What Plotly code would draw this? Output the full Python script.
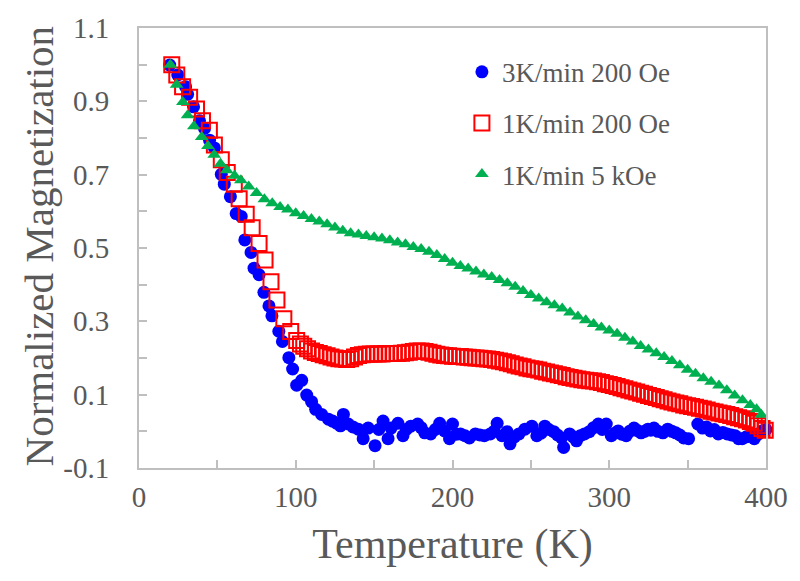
import plotly.graph_objects as go

# ---------------- data ----------------
blue_T = [19.6, 24.7, 29.7, 31.0, 34.8, 38.6, 41.8, 45.0, 48.1, 52.5, 54.4, 58.3, 62.0, 65.2,
          67.5, 71.5, 73.4, 76.6, 79.7, 82.9, 84.8, 89.2, 91.5, 95.6, 98.0, 100.6, 103.8, 107.0,
          110.1, 112.7, 116.5, 120.9, 123.5, 126.0, 128.5, 130.4, 133.5, 136.5, 139.9, 143.0,
          146.2, 150.6, 153.0, 155.7, 158.9, 160.8, 165.2, 168.4, 170.5, 173.4, 177.8, 180.0,
          182.3, 186.1, 189.0, 191.8, 194.9, 198.1, 200.0, 202.5, 205.1, 208.0, 210.8, 214.6,
          217.5, 220.3, 224.1, 226.5, 228.5, 231.6, 234.8, 236.7, 239.5, 242.4, 246.2, 250.6,
          253.8, 256.5, 258.9, 261.5, 264.6, 267.0, 269.6, 270.9, 274.7, 277.0, 279.1, 281.5,
          284.2, 287.3, 290.0, 293.0, 295.5, 298.1, 301.3, 303.5, 305.7, 308.0, 310.8, 313.0,
          315.8, 318.0, 320.3, 322.5, 324.7, 326.5, 328.5, 331.0, 334.2, 337.3, 340.0, 342.4,
          345.0, 347.5, 350.6, 356.5, 359.5, 362.0, 364.6, 367.0, 369.6, 372.5, 375.3, 378.0,
          380.4, 382.5, 384.8, 387.5, 389.9, 392.5, 395.0, 397.5, 400.0]
blue_M = [0.999, 0.972, 0.940, 0.919, 0.885, 0.847, 0.826, 0.794, 0.773, 0.701, 0.674, 0.640, 0.594, 0.586,
          0.522, 0.488, 0.445, 0.427, 0.379, 0.342, 0.315, 0.273, 0.245, 0.201, 0.170, 0.126, 0.139, 0.099,
          0.081, 0.060, 0.046, 0.033, 0.028, 0.022, 0.015, 0.046, 0.020, 0.012, 0.006, -0.020,
          0.009, -0.039, 0.005, 0.028, -0.020, 0.009, 0.022, -0.012, 0.005, 0.014, 0.020, 0.010,
          -0.004, -0.007, 0.005, 0.022, 0.001, -0.020, 0.020, -0.008, -0.007, -0.012, -0.018, -0.007,
          -0.010, -0.012, -0.007, 0.000, 0.022, -0.012, -0.001, -0.034, -0.015, -0.007, 0.006, 0.014,
          -0.012, -0.005, 0.014, 0.005, -0.001, -0.010, -0.018, -0.044, -0.007, -0.015, -0.026, -0.012,
          -0.007, -0.001, 0.010, 0.020, 0.005, 0.020, -0.012, -0.005, 0.001, -0.008, -0.012, 0.000,
          0.009, 0.002, -0.004, 0.000, 0.006, 0.003, 0.009, 0.000, -0.004, 0.006, 0.000, -0.004,
          -0.010, -0.018, -0.020, 0.020, 0.009, 0.012, 0.001, 0.005, -0.007, -0.003, -0.007, -0.010,
          -0.012, -0.020, -0.020, -0.015, -0.012, -0.020, -0.008, 0.001, 0.005]

red_T = [20.9, 24.1, 27.8, 32.3, 36.7, 40.5, 44.9, 48.1, 52.5, 56.3, 60.8, 63.9, 68.4, 72.2,
         76.6, 80.4, 84.2, 88.0, 92.4, 96.8, 100.6, 103.0, 105.1, 107.5, 110.1,
         112.5, 115, 117.5, 120, 122.5, 125, 127.5, 130, 132.5, 135, 137.5, 140, 142.5, 145,
         147.5, 150, 152.5, 155, 157.5, 160, 162.5, 165, 167.5, 170, 172.5, 175, 177.5, 180,
         182.5, 185, 187.5, 190, 192.5, 195, 197.5, 200, 202.5, 205, 207.5, 210, 212.5, 215,
         217.5, 220, 222.5, 225, 227.5, 230, 232.5, 235, 237.5, 240, 242.5, 245, 247.5, 250,
         252.5, 255, 257.5, 260, 262.5, 265, 267.5, 270, 272.5, 275, 277.5, 280, 282.5, 285,
         287.5, 290, 292.5, 295, 297.5, 300, 302.5, 305, 307.5, 310, 312.5, 315, 317.5, 320,
         322.5, 325, 327.5, 330, 332.5, 335, 337.5, 340, 342.5, 345, 347.5, 350, 352.5, 355,
         357.5, 360, 362.5, 365, 367.5, 370, 372.5, 375, 377.5, 380, 382.5, 385, 387.5, 390,
         392.5, 395, 397.5, 399.5]
red_M = [1.000, 0.972, 0.940, 0.911, 0.879, 0.847, 0.821, 0.781, 0.741, 0.706, 0.674, 0.634, 0.592, 0.555,
         0.512, 0.467, 0.408, 0.358, 0.307, 0.272, 0.248, 0.238, 0.232, 0.225, 0.219,
         0.215, 0.212, 0.209, 0.206, 0.203, 0.200, 0.198, 0.197, 0.196, 0.198, 0.203, 0.207, 0.209, 0.210,
         0.211, 0.211, 0.211, 0.211, 0.212, 0.212, 0.212, 0.212, 0.213, 0.214, 0.216, 0.218, 0.219, 0.219,
         0.218, 0.216, 0.213, 0.210, 0.208, 0.207, 0.206, 0.205, 0.204, 0.204, 0.203, 0.202, 0.201, 0.200,
         0.199, 0.198, 0.197, 0.196, 0.194, 0.192, 0.190, 0.187, 0.184, 0.181, 0.178, 0.176, 0.173, 0.171,
         0.169, 0.167, 0.164, 0.162, 0.159, 0.157, 0.154, 0.152, 0.149, 0.147, 0.145, 0.143, 0.141, 0.139,
         0.138, 0.137, 0.135, 0.133, 0.130, 0.128, 0.125, 0.122, 0.119, 0.116, 0.113, 0.110, 0.107, 0.104,
         0.101, 0.098, 0.095, 0.092, 0.089, 0.086, 0.083, 0.080, 0.077, 0.075, 0.072, 0.070, 0.068, 0.066,
         0.063, 0.061, 0.058, 0.055, 0.053, 0.050, 0.048, 0.046, 0.043, 0.040, 0.037, 0.034, 0.031, 0.027,
         0.022, 0.015, 0.008, 0.003]

green_T = [20, 24, 28, 31, 35, 40, 44, 48, 52, 56, 61, 65, 70, 75, 80, 85, 90, 95, 100, 105,
           110, 115, 120, 125, 130, 135, 140, 145, 150, 155, 160, 165, 170, 175, 180, 185, 190,
           195, 200, 205, 210, 215, 220, 225, 230, 235, 240, 245, 250, 255, 260, 265, 270, 275,
           280, 285, 290, 295, 300, 305, 310, 315, 320, 325, 330, 335, 340, 345, 350, 355, 360,
           365, 370, 375, 380, 385, 390, 394, 397]
green_M = [1.000, 0.945, 0.898, 0.862, 0.832, 0.803, 0.778, 0.754, 0.730, 0.712, 0.697, 0.685, 0.668,
           0.650, 0.633, 0.622, 0.612, 0.605, 0.595, 0.587, 0.579, 0.572, 0.565, 0.556, 0.547, 0.540,
           0.537, 0.533, 0.529, 0.526, 0.521, 0.515, 0.510, 0.503, 0.497, 0.490, 0.481, 0.470, 0.460,
           0.451, 0.444, 0.436, 0.428, 0.421, 0.413, 0.404, 0.394, 0.383, 0.372, 0.362, 0.352, 0.344,
           0.335, 0.324, 0.313, 0.303, 0.293, 0.283, 0.275, 0.266, 0.255, 0.245, 0.233, 0.223, 0.213,
           0.203, 0.192, 0.180, 0.168, 0.157, 0.145, 0.135, 0.125, 0.112, 0.098, 0.085, 0.072, 0.060,
           0.045]

names = ["3K/min 200 Oe", "1K/min 200 Oe", "1K/min 5 kOe"]
x_ticks = [0, 100, 200, 300, 400]
y_ticks = [-0.1, 0.1, 0.3, 0.5, 0.7, 0.9, 1.1]
y_ticktext = ["-0.1", "0.1", "0.3", "0.5", "0.7", "0.9", "1.1"]
x_title = "Temperature (K)"
y_title = "Normalized Magnetization"

# ---------------- style ----------------
FONT = "Liberation Serif, Times New Roman, serif"
TXT = "#595959"
AX = "#BFBFBF"

fig = go.Figure()
fig.add_trace(go.Scatter(x=blue_T, y=blue_M, mode="markers", name=names[0], legendgroup="a",
                         cliponaxis=False,
                         marker=dict(symbol="circle", size=13, color="#0000FF")))
fig.add_trace(go.Scatter(x=red_T, y=red_M, mode="markers", name=names[1], legendgroup="b",
                         cliponaxis=False,
                         marker=dict(symbol="square-open", size=15, color="#FF0000",
                                     line=dict(width=2, color="#FF0000"))))
fig.add_trace(go.Scatter(x=green_T, y=green_M, mode="markers", name=names[2], legendgroup="c",
                         cliponaxis=False,
                         marker=dict(symbol="triangle-up", size=12, color="#00B050")))

fig.update_layout(
    width=800, height=581,
    margin=dict(l=139, r=29, t=17, b=113),
    paper_bgcolor="white", plot_bgcolor="white",
    font=dict(family=FONT, color=TXT),
    showlegend=True,
    legend=dict(x=0.515, y=0.955, xanchor="left", yanchor="top",
                font=dict(family=FONT, size=27, color=TXT),
                bgcolor="rgba(0,0,0,0)", tracegroupgap=13, traceorder="grouped"),
)
fig.update_xaxes(
    range=[0, 400], tickmode="array", tickvals=x_ticks,
    ticks="inside", ticklen=8, tickwidth=1.5, tickcolor=AX,
    minor=dict(dtick=50, tick0=0, ticks="inside", ticklen=8, tickwidth=1.5, tickcolor=AX),
    showline=True, linecolor=AX, linewidth=2, mirror=True,
    showgrid=False, zeroline=False,
    tickfont=dict(family=FONT, size=29, color=TXT), ticklabelstandoff=2,
    title=dict(text=x_title, font=dict(family=FONT, size=42, color=TXT), standoff=17),
)
fig.update_yaxes(
    range=[-0.1, 1.1], tickmode="array", tickvals=y_ticks, ticktext=y_ticktext,
    ticks="inside", ticklen=8, tickwidth=1.5, tickcolor=AX,
    minor=dict(dtick=0.1, tick0=-0.1, ticks="inside", ticklen=8, tickwidth=1.5, tickcolor=AX),
    showline=True, linecolor=AX, linewidth=2, mirror=True,
    showgrid=False, zeroline=False,
    tickfont=dict(family=FONT, size=29, color=TXT), ticklabelstandoff=22,
)
fig.add_annotation(text=y_title, xref="paper", yref="paper", x=-0.16, y=0.505,
                   xanchor="center", yanchor="middle", textangle=-90, showarrow=False,
                   font=dict(family=FONT, size=41, color=TXT))

fig.write_html("out.html")
